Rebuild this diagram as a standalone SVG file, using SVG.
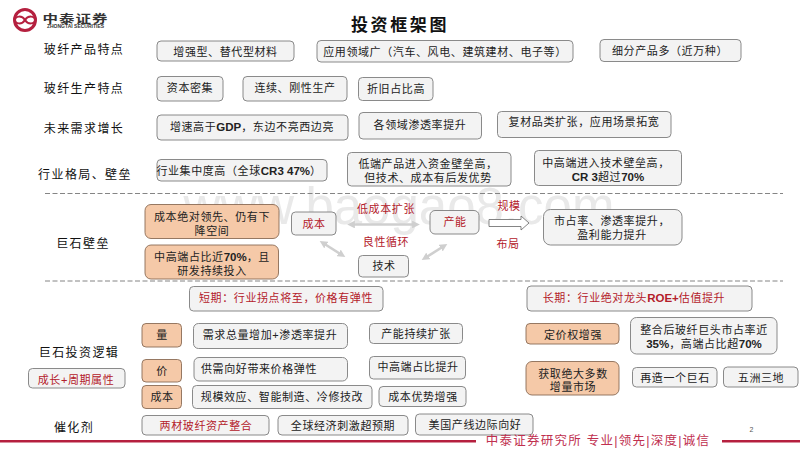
<svg xmlns="http://www.w3.org/2000/svg" width="800" height="450" viewBox="0 0 800 450">
<style>
text{font-family:"Liberation Sans","Noto Sans CJK SC",sans-serif;font-size:11px;fill:#222;text-anchor:middle;letter-spacing:.6px}
.h{font-size:12px;letter-spacing:1.4px;fill:#111}
.r{fill:#b3202a}
.b{font-weight:700;font-size:11.500px;letter-spacing:0}
.n rect{fill:#f3f3f3;stroke:#7d7d7d;stroke-width:.9}
.o rect{fill:#f5c9a8;stroke:#8a6b55;stroke-width:.9}
.d{stroke:#777;stroke-width:.9;stroke-dasharray:5 2.5;fill:none}
.g{stroke:#cfcfcf;stroke-width:2.6;fill:none;marker-start:url(#a);marker-end:url(#a)}
.f{fill:#b5203f}
</style>
<defs>
<marker id="a" viewBox="0 0 6 6" refX="3" refY="3" markerWidth="3" markerHeight="3" orient="auto-start-reverse"><path d="M0 0L6 3L0 6z" fill="#cfcfcf"/></marker>
</defs>
<rect width="800" height="450" fill="#fff"/>
<text x="399" y="224" style="font-size:51px;fill:#e9e9e9;letter-spacing:0;font-weight:400">www.baogao8.com</text>

<g id="logo">
<circle cx="25" cy="20" r="10.500" fill="none" stroke="#b5203f" stroke-width="3"/>
<path d="M25 20c-3-5-10-4-10 0s7 5 10 0c3-5 10-4 10 0s-7 5-10 0" fill="none" stroke="#b5203f" stroke-width="2"/>
<text transform="translate(75.500 22.500) scale(1 .72)" style="font-size:15.500px;font-weight:700;letter-spacing:1px;fill:#333">中泰证券</text>
<text x="75.500" y="27.500" style="font-size:5px;font-weight:700;letter-spacing:0;fill:#333">ZHONGTAI SECURITIES</text>
</g>
<text x="400" y="31" style="font-size:17px;font-weight:700;letter-spacing:2.600px;fill:#111">投资框架图</text>

<text class="h" x="84" y="54">玻纤产品特点</text>
<text class="h" x="84" y="93">玻纤生产特点</text>
<text class="h" x="84" y="133">未来需求增长</text>
<text class="h" x="85" y="179">行业格局、壁垒</text>
<text class="h" x="83" y="248">巨石壁垒</text>
<text class="h" x="79" y="357">巨石投资逻辑</text>
<text class="h" x="74" y="432">催化剂</text>

<g id="n1" class="n"><rect x="157" y="41" width="137" height="20" rx="4"/><text x="225.500" y="56">增强型、替代型材料</text></g>
<g id="n2" class="n"><rect x="317" y="40.500" width="256" height="21.500" rx="4"/><text x="445" y="56">应用领域广（汽车、风电、建筑建材、电子等）</text></g>
<g id="n3" class="n"><rect x="600" y="39.500" width="141" height="22" rx="4"/><text x="670" y="55">细分产品多（近万种）</text></g>
<g id="n4" class="n"><rect x="157" y="76.500" width="66" height="24.500" rx="4"/><text x="190" y="92">资本密集</text></g>
<g id="n5" class="n"><rect x="243" y="76.500" width="104" height="24.500" rx="4"/><text x="295" y="92">连续、刚性生产</text></g>
<g id="n6" class="n"><rect x="358.500" y="77.500" width="74.500" height="23" rx="4"/><text x="396" y="93">折旧占比高</text></g>
<g id="n7" class="n"><rect x="157" y="115" width="191" height="25" rx="4"/><text x="252" y="131">增速高于<tspan class="b">GDP</tspan>，东边不亮西边亮</text></g>
<g id="n8" class="n"><rect x="359" y="112.500" width="122.500" height="26.500" rx="4"/><text x="420" y="129">各领域渗透率提升</text></g>
<g id="n9" class="n"><rect x="497.500" y="111.500" width="173.500" height="26" rx="4"/><text x="584" y="126">复材品类扩张，应用场景拓宽</text></g>
<g id="n10" class="n"><rect x="157" y="159.500" width="170" height="21.500" rx="4"/><text x="239" y="175">行业集中度高（全球<tspan class="b">CR3 47%</tspan>）</text></g>
<g id="n11" class="n"><rect x="347.500" y="152.500" width="163.500" height="33.500" rx="4"/><text x="428" y="168">低端产品进入资金壁垒高，</text><text x="428" y="182">但技术、成本有后发优势</text></g>
<g id="n12" class="n"><rect x="534.500" y="150.500" width="147" height="35" rx="4"/><text x="606" y="167">中高端进入技术壁垒高，</text><text x="608" y="181"><tspan class="b">CR 3</tspan>超过<tspan class="b">70%</tspan></text></g>

<path class="d" d="M45 193.500H783M45 281H783"/>

<g id="n13" class="o"><rect x="145" y="204.500" width="134" height="34" rx="6"/><text x="212" y="221">成本绝对领先、仍有下</text><text x="212" y="235">降空间</text></g>
<g id="n14" class="o"><rect x="145" y="245" width="133.500" height="34" rx="6"/><text x="212" y="261">中高端占比近<tspan class="b">70%</tspan>，且</text><text x="212" y="275">研发持续投入</text></g>
<g id="n15" class="n"><rect x="291.500" y="212" width="44.500" height="23" rx="4"/><text class="r" x="314" y="228">成本</text></g>
<g id="n16" class="n"><rect x="430" y="210.500" width="49" height="23.500" rx="5"/><text class="r" x="455" y="226">产能</text></g>
<g id="n17" class="n"><rect x="358.500" y="255.500" width="50" height="21.500" rx="4"/><text x="384" y="270">技术</text></g>
<g id="n18" class="n"><rect x="543.500" y="209.500" width="138.500" height="35.500" rx="7"/><text x="612" y="225">市占率、渗透率提升，</text><text x="612" y="239">盈利能力提升</text></g>
<text class="r" x="386" y="213">低成本扩张</text>
<text class="r" x="386" y="246">良性循环</text>
<text class="r" x="509" y="210">规模</text>
<text class="r" x="508" y="248">布局</text>

<g id="connectors">
<path class="g" d="M351 224.500H416"/>
<path class="g" d="M323 243L342 255"/>
<path class="g" d="M444 246L425 258"/>
<path d="M489 219.500H521V216L529 223L521 230V226.500H489z" fill="#fff" stroke="#666" stroke-width=".8"/>
</g>

<g id="n19" class="n"><rect x="189.500" y="286.500" width="193.500" height="24.500" rx="4"/><text class="r" x="286" y="302">短期：行业拐点将至，价格有弹性</text></g>
<g id="n20" class="n"><rect x="527" y="286" width="225" height="25" rx="4"/><text class="r" x="634" y="302">长期：行业绝对龙头<tspan class="b">ROE+</tspan>估值提升</text></g>

<g id="n21" class="o"><rect x="142" y="323.500" width="39.500" height="23.500" rx="4"/><text x="162" y="339">量</text></g>
<g id="n22" class="n"><rect x="193.500" y="323.500" width="154" height="25" rx="5"/><text x="270" y="339">需求总量增加+渗透率提升</text></g>
<g id="n23" class="n"><rect x="369.500" y="323.500" width="93" height="20" rx="4"/><text x="416" y="338">产能持续扩张</text></g>
<g id="n24" class="o"><rect x="142" y="359.500" width="39.500" height="22.500" rx="4"/><text x="162" y="375">价</text></g>
<g id="n25" class="n"><rect x="194" y="357.500" width="153.500" height="23.500" rx="5"/><text x="259" y="373">供需向好带来价格弹性</text></g>
<g id="n26" class="n"><rect x="369.500" y="356.500" width="96" height="22.500" rx="4"/><text x="418" y="371">中高端占比提升</text></g>
<g id="n27" class="o"><rect x="142" y="385.500" width="39.500" height="23" rx="4"/><text x="162" y="401">成本</text></g>
<g id="n28" class="n"><rect x="192.500" y="385.500" width="179.500" height="23" rx="4"/><text x="282" y="401">规模效应、智能制造、冷修技改</text></g>
<g id="n29" class="n"><rect x="379" y="386.500" width="87" height="20" rx="4"/><text x="423" y="401">成本优势增强</text></g>
<g id="n30" class="n"><rect x="28.500" y="368.500" width="96.500" height="19.500" rx="4"/><text class="r" x="76" y="384">成长+周期属性</text></g>
<g id="n31" class="n"><rect x="142" y="415.500" width="127" height="19.500" rx="4"/><text class="r" x="206" y="430">两材玻纤资产整合</text></g>
<g id="n32" class="n"><rect x="278" y="415.500" width="130" height="19.500" rx="4"/><text x="343" y="430">全球经济刺激超预期</text></g>
<g id="n33" class="n"><rect x="415.500" y="414" width="117.500" height="21" rx="4"/><text x="475" y="429">美国产线边际向好</text></g>

<g id="n34" class="o"><rect x="526" y="323.500" width="93" height="20.500" rx="4"/><text x="573" y="339">定价权增强</text></g>
<g id="n35" class="n"><rect x="630.500" y="317.500" width="146.500" height="36.500" rx="6"/><text x="704" y="334">整合后玻纤巨头市占率近</text><text x="704" y="348"><tspan class="b">35%</tspan>，高端占比超<tspan class="b">70%</tspan></text></g>
<g id="n36" class="o"><rect x="526" y="361.500" width="93" height="33.500" rx="6"/><text x="573" y="378">获取绝大多数</text><text x="573" y="391">增量市场</text></g>
<g id="n37" class="n"><rect x="632.500" y="367.500" width="84.500" height="19.500" rx="4"/><text x="675" y="382">再造一个巨石</text></g>
<g id="n38" class="n"><rect x="723.500" y="367" width="74.500" height="20" rx="4"/><text x="761" y="382">五洲三地</text></g>

<text x="751.500" y="432" style="font-size:7px;fill:#555;letter-spacing:0">2</text>
<rect class="f" x="0" y="440" width="476" height="2.500"/>
<rect class="f" x="722" y="440" width="78" height="2.500"/>
<text x="598" y="445" style="font-size:12.500px;fill:#c0304f;letter-spacing:1.250px">中泰证券研究所 专业|领先|深度|诚信</text>
</svg>
